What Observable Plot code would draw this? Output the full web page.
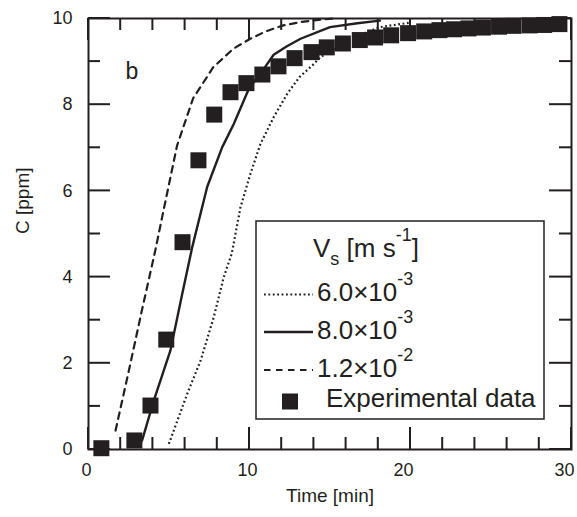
<!DOCTYPE html>
<html><head><meta charset="utf-8">
<script src="https://cdn.jsdelivr.net/npm/d3@7"></script>
<script src="https://cdn.jsdelivr.net/npm/@observablehq/plot@0.6"></script>
<style>body{margin:0;background:#fff}</style>
</head><body><div id="chart"></div>
<script>
const INK = "#231f20";

// Experimental data (squares)
const expTime = [0.8, 2.85, 3.85, 4.83, 5.84, 6.83, 7.81, 8.82, 9.81, 10.8, 11.8, 12.8, 13.85, 14.8, 15.8, 16.85, 17.8, 18.8, 19.85, 20.85, 21.8, 22.7, 23.6, 24.5, 25.5, 26.4, 27.4, 28.3, 29.25];
const expC    = [0.03, 0.21, 1.02, 2.55, 4.81, 6.71, 7.77, 8.29, 8.50, 8.70, 8.89, 9.08, 9.22, 9.33, 9.42, 9.50, 9.56, 9.61, 9.66, 9.70, 9.73, 9.75, 9.77, 9.79, 9.81, 9.83, 9.84, 9.85, 9.87];

// Model curves, Vs = 6.0e-3 (dotted)
const dotTime = [4.99, 6.13, 6.96, 7.78, 8.4, 8.9, 9.44, 10.06, 10.68, 11.5, 12.34, 13.1, 13.9, 14.4, 15.5, 16.5, 17.4, 18.1, 19.0, 19.9];
const dotC    = [0.13, 1.29, 2.06, 3.07, 4.0, 4.55, 5.62, 6.40, 7.09, 7.71, 8.25, 8.64, 8.91, 9.1, 9.35, 9.55, 9.7, 9.8, 9.85, 9.9];
// Vs = 8.0e-3 (solid)
const solTime = [3.33, 4.06, 5.09, 5.82, 6.44, 7.37, 8.3, 9.03, 9.96, 10.89, 11.5, 12.3, 13.17, 15.0, 16.7, 18.1];
const solC    = [0.21, 1.14, 2.30, 3.61, 4.69, 6.09, 7.01, 7.56, 8.37, 8.83, 9.16, 9.35, 9.53, 9.80, 9.89, 9.95];
// Vs = 1.2e-2 (dashed)
const dasTime = [1.68, 2.5, 3.3, 4.15, 4.7, 5.5, 6.5, 7.75, 9.0, 10.05, 11.0, 12.1, 13.2, 14.3, 15.3];
const dasC    = [0.44, 1.82, 3.2, 4.62, 5.62, 7.05, 8.15, 8.87, 9.3, 9.53, 9.7, 9.84, 9.92, 9.97, 10.0];

const xMajor = [0, 10, 20, 30];
const xMinor = [2, 4, 6, 8, 12, 14, 16, 18, 22, 24, 26, 28];
const yMajor = [0, 2, 4, 6, 8, 10];
const yMinor = [1, 3, 5, 7, 9];

const legendTitle = "V";
const legendItems = [
  {mant: "6.0×10", exp: "-3"},
  {mant: "8.0×10", exp: "-3"},
  {mant: "1.2×10", exp: "-2"},
  {mant: "Experimental data", exp: null}
];

const zip = (ts, cs) => ts.map((t, i) => ({t, c: cs[i]}));
const expData = zip(expTime, expC);
const dotData = zip(dotTime, dotC);
const solData = zip(solTime, solC);
const dasData = zip(dasTime, dasC);

const W = 577, H = 517, ML = 88, MR = 6, MT = 18, MB = 68;
const MAJ = 22, MIN = 12;
const plot = Plot.plot({
  width: W, height: H,
  marginLeft: ML, marginRight: MR, marginTop: MT, marginBottom: MB,
  style: {fontFamily: "'Liberation Sans', Arial, sans-serif", color: INK, background: "#fff"},
  x: {domain: [0, 30]},
  y: {domain: [0, 10]},
  marks: [
    Plot.line(dotData, {x: "t", y: "c", stroke: INK, strokeWidth: 2.2, strokeDasharray: "1.8,2.6", strokeLinecap: "butt"}),
    Plot.line(solData, {x: "t", y: "c", stroke: INK, strokeWidth: 2.4}),
    Plot.line(dasData, {x: "t", y: "c", stroke: INK, strokeWidth: 2.2, strokeDasharray: "6.5,5.5"}),
    Plot.dot(expData, {x: "t", y: "c", symbol: "square", r: 9.03, fill: INK, stroke: "none"}),
    // tick labels
    Plot.axisX(xMajor.slice(0, 2), {anchor: "bottom", tickSize: 0, tickPadding: 14, fontSize: 18, label: null, fill: INK, dx: -2}),
    Plot.axisX(xMajor.slice(2), {anchor: "bottom", tickSize: 0, tickPadding: 14, fontSize: 18, label: null, fill: INK, dx: -7}),
    Plot.axisY(yMajor, {anchor: "left", tickSize: 0, tickPadding: 16, fontSize: 18, label: null, fill: INK}),
    Plot.frame({stroke: INK, strokeWidth: 2, fill: "none"}),
    // axis titles and panel label
    Plot.text(["Time [min]"], {frameAnchor: "bottom", dy: 52, fontSize: 19, fill: INK}),
    Plot.text(["C [ppm]"], {frameAnchor: "left", dx: -66, dy: 0, rotate: -90, fontSize: 19, fill: INK}),
    Plot.text(["b"], {frameAnchor: "top-left", dx: 37, dy: 44, fontSize: 23, fill: INK, textAnchor: "start"})
  ]
});
document.getElementById("chart").append(plot);

const svg = d3.select(plot);

// Inward ticks on all four sides, positioned with Plot's own scales
const sx = plot.scale("x"), sy = plot.scale("y");
const x0 = ML, x1 = W - MR, y0 = H - MB, y1 = MT;
const tg = svg.append("g").attr("fill", INK).attr("stroke", "none");
const TW = 2;
[[xMajor, MAJ], [xMinor, MIN]].forEach(([vals, len]) => vals.forEach(v => {
  const px = sx.apply(v);
  tg.append("rect").attr("x", px - TW / 2).attr("width", TW).attr("y", y0 - len).attr("height", len);
  tg.append("rect").attr("x", px - TW / 2).attr("width", TW).attr("y", y1).attr("height", len);
}));
[[yMajor, MAJ], [yMinor, MIN]].forEach(([vals, len]) => vals.forEach(v => {
  const py = sy.apply(v);
  tg.append("rect").attr("y", py - TW / 2).attr("height", TW).attr("x", x0).attr("width", len);
  tg.append("rect").attr("y", py - TW / 2).attr("height", TW).attr("x", x1 - len).attr("width", len);
}));

// Legend box
const g = svg.append("g").attr("font-family", "'Liberation Sans', Arial, sans-serif")
  .attr("fill", INK).attr("text-anchor", "start");
g.append("rect").attr("x", 256).attr("y", 221).attr("width", 288).attr("height", 198)
  .attr("fill", "#fff").attr("stroke", INK).attr("stroke-width", 1.5);
const title = g.append("text").attr("x", 313).attr("y", 257).attr("font-size", 26);
title.append("tspan").text(legendTitle);
title.append("tspan").attr("dy", 8).attr("font-size", 18).text("s");
title.append("tspan").attr("dy", -8).text(" [m s");
title.append("tspan").attr("dy", -16).attr("font-size", 18).text("-1");
title.append("tspan").attr("dy", 16).text("]");

const rowY = [301, 339, 377, 407];
const rowX = [317, 317, 317, 326];
const sampleY = [294.5, 332, 370, 401.5];
const styles = [
  {w: 2.2, dash: "1.8,2.6"},
  {w: 2.4, dash: null},
  {w: 2.2, dash: "6.5,5.5"}
];
styles.forEach((s, i) => {
  g.append("line").attr("x1", 264).attr("x2", 313).attr("y1", sampleY[i]).attr("y2", sampleY[i])
    .attr("stroke", INK).attr("stroke-width", s.w).attr("stroke-dasharray", s.dash);
});
g.append("rect").attr("x", 282).attr("y", sampleY[3] - 8).attr("width", 16).attr("height", 16).attr("fill", INK);
legendItems.forEach((it, i) => {
  const t = g.append("text").attr("x", rowX[i]).attr("y", rowY[i]).attr("font-size", 26);
  t.append("tspan").text(it.mant);
  if (it.exp) t.append("tspan").attr("dy", -16).attr("font-size", 18).text(it.exp);
});
</script>
</body></html>
